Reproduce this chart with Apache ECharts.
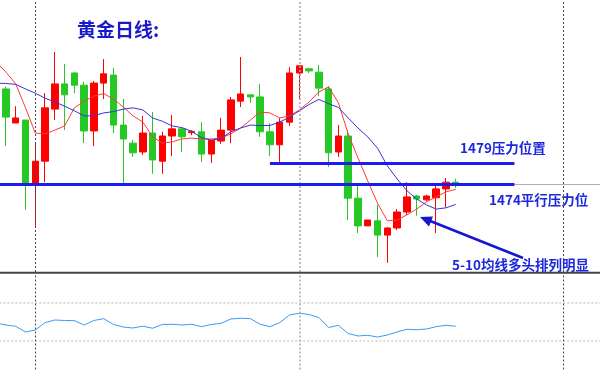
<!DOCTYPE html>
<html><head><meta charset="utf-8">
<script src="https://cdn.jsdelivr.net/npm/echarts@6.0.0/dist/echarts.min.js"></script>
<style>html,body{margin:0;padding:0;background:#fff;overflow:hidden;width:600px;height:370px;position:relative}#c{position:absolute;left:-9px;top:0;width:618px;height:370px}</style>
</head><body><div id="c"></div>
<script>
// Daily gold candles (47 bars)
const opens  = [1496.7,1488.6,1489.3,1474.3,1479.5,1491.9,1497.9,1500.5,1497.6,1486.7,1498.1,1500.0,1488.1,1483.8,1481.7,1486.2,1479.5,1485.5,1487.2,1486.3,1486.5,1481.2,1484.3,1486.9,1493.8,1495.3,1494.8,1486.5,1483.4,1488.8,1500.5,1501.5,1500.7,1496.7,1481.7,1485.5,1470.7,1464.1,1465.3,1461.9,1463.6,1467.4,1471.2,1470.3,1470.8,1472.9,1474.5];
const closes = [1490.0,1489.8,1474.3,1479.5,1492.2,1497.9,1495.3,1497.6,1486.7,1498.1,1500.3,1488.1,1484.8,1481.5,1486.2,1479.8,1485.5,1487.2,1485.3,1486.6,1481.2,1484.5,1486.9,1494.1,1495.5,1494.8,1486.5,1483.4,1488.8,1500.5,1502.2,1501.0,1496.9,1481.5,1485.5,1470.7,1464.1,1465.5,1461.9,1463.6,1467.4,1471.0,1470.5,1471.2,1472.9,1474.5,1474.3];
const lows   = [1483.1,1488.6,1467.9,1464.1,1474.5,1489.3,1486.9,1495.7,1483.8,1483.1,1494.3,1486.2,1474.3,1480.5,1481.0,1476.5,1476.5,1480.7,1481.7,1485.7,1479.3,1479.1,1483.6,1483.8,1492.4,1493.4,1485.3,1480.7,1479.1,1487.9,1494.3,1500.5,1495.0,1478.1,1480.5,1465.5,1462.4,1464.1,1456.7,1455.3,1463.1,1466.7,1466.5,1470.0,1462.4,1468.6,1473.1];
const highs  = [1497.2,1492.6,1489.3,1483.6,1495.7,1505.5,1502.6,1500.7,1498.4,1498.6,1503.8,1501.7,1494.3,1484.5,1490.3,1491.2,1486.5,1490.5,1487.6,1486.9,1488.8,1484.5,1489.8,1494.8,1504.3,1495.3,1497.9,1488.6,1489.8,1501.9,1502.4,1501.7,1502.4,1497.4,1488.1,1486.9,1473.8,1465.5,1469.1,1463.8,1468.1,1474.5,1471.5,1471.5,1474.3,1475.5,1475.3];
// moving averages, one value for the bar before the window plus each bar
const ma5  = [1503.1,1500.7,1497.9,1492.2,1486.2,1486.0,1486.9,1487.9,1492.2,1493.8,1495.0,1495.6,1494.3,1492.4,1490.3,1488.8,1485.3,1483.8,1484.1,1484.8,1485.0,1484.8,1484.8,1485.0,1486.0,1487.4,1489.3,1491.2,1491.0,1489.8,1490.3,1491.7,1493.6,1496.0,1497.2,1493.4,1486.0,1480.3,1474.8,1469.5,1465.3,1465.5,1466.7,1468.1,1469.8,1471.0,1472.2,1472.8];
const ma10 = [1498.1,1498.0,1497.8,1496.7,1495.7,1494.5,1493.6,1492.6,1491.5,1490.3,1490.3,1491.0,1491.3,1491.9,1492.2,1491.7,1489.8,1489.0,1487.9,1487.5,1486.6,1485.1,1484.5,1484.9,1486.5,1487.4,1488.1,1488.0,1488.0,1488.8,1490.0,1491.5,1493.0,1494.2,1493.2,1492.3,1489.8,1487.4,1485.3,1482.6,1478.4,1475.3,1472.5,1470.5,1469.1,1468.1,1468.4,1469.2];
// lower oscillator panel
const osc  = [48.9,46.8,45.5,39.5,41.6,49.3,52.1,51.6,51.4,46.8,51.6,53.5,47.4,44.7,43.7,45.6,43.4,47.4,47.6,46.8,47.6,45.1,47.4,48.6,53.2,53.9,53.5,47.6,45.1,49.3,57.4,59.2,57.9,54.7,44.2,46.5,37.9,35.3,36.0,34.2,36.3,39.5,42.3,41.9,42.6,45.1,46.5,45.5];
const levels = [1474, 1479];
const oscLevels = [70, 30];
const separators = [4, 31, 58];
const nCats = 63;

const categories = [];
for (let i = 0; i < nCats; i++) categories.push(String(i));
const candles = [['-','-','-','-']];
for (let i = 0; i < opens.length; i++) candles.push([opens[i], closes[i], lows[i], highs[i]]);

const chart = echarts.init(document.getElementById('c'), null, {renderer: 'canvas'});
const OX = 9; // container is shifted 9px left of the page
const vLine = (idx) => ({
  xAxis: String(idx),
  lineStyle: idx === 31 ? {color: '#a8a8a8', width: 1.5, type: [2, 2]} : {color: '#4a4a4a', width: 1, type: [2, 2]}
});
const option = {
  animation: false,
  backgroundColor: '#ffffff',
  grid: [
    {left: 0.3, top: 0, width: 616, height: 272},
    {left: 0.3, top: 274.5, width: 616, height: 95}
  ],
  xAxis: [
    {type: 'category', gridIndex: 0, data: categories, boundaryGap: true, show: false},
    {type: 'category', gridIndex: 1, data: categories, boundaryGap: true, show: false}
  ],
  yAxis: [
    {type: 'value', gridIndex: 0, min: 1453.12, max: 1517.88, show: false, splitLine: {show: false}},
    {type: 'value', gridIndex: 1, min: 0, max: 100, show: false, splitLine: {show: false}}
  ],
  series: [
    {
      type: 'candlestick', xAxisIndex: 0, yAxisIndex: 0, data: candles, barWidth: 7,
      itemStyle: {color: '#ff0000', color0: '#25c825', borderColor: '#ff0000', borderColor0: '#25c825', borderWidth: 1},
      markLine: {
        silent: true, symbol: 'none', label: {show: false}, animation: false,
        data: [
          vLine(separators[0]), vLine(separators[1]), vLine(separators[2]),
          [{coord: ['53', levels[0]], lineStyle: {color: '#b0b0b0', width: 1, type: 'solid'}}, {coord: ['62', levels[0]]}],
          [{coord: ['0', levels[0]], lineStyle: {color: '#1c1cf0', width: 3, type: 'solid'}}, {coord: ['53', levels[0]]}],
          [{coord: ['28', levels[1]], lineStyle: {color: '#1c1cf0', width: 3, type: 'solid'}}, {coord: ['53', levels[1]]}]
        ]
      }
    },
    {type: 'line', xAxisIndex: 0, yAxisIndex: 0, data: ma5, showSymbol: false, symbol: 'none', z: 3,
     lineStyle: {color: '#ff3a3a', width: 1}},
    {type: 'line', xAxisIndex: 0, yAxisIndex: 0, data: ma10, showSymbol: false, symbol: 'none', z: 3,
     lineStyle: {color: '#3535d8', width: 1}},
    {type: 'line', xAxisIndex: 1, yAxisIndex: 1, data: osc, showSymbol: false, symbol: 'none',
     lineStyle: {color: '#3d9bf5', width: 1},
     markLine: {
       silent: true, symbol: 'none', label: {show: false},
       data: [
         {yAxis: oscLevels[0], lineStyle: {color: '#cfcfcf', width: 1.5, type: [2, 2]}},
         {yAxis: oscLevels[1], lineStyle: {color: '#cfcfcf', width: 1.5, type: [2, 2]}},
         vLine(separators[0]), vLine(separators[1]), vLine(separators[2])
       ]
     }}
  ],
  graphic: [
    {type: 'line', shape: {x1: OX, y1: 272.8, x2: OX + 600, y2: 272.8}, style: {stroke: '#444', lineWidth: 2}, z: 10},
    {type: 'text', x: OX + 77, y: 30, z: 10, style: {text: '黄金日线:', font: 'bold 19px "Noto Sans CJK SC"', fill: '#1a1ac8', textVerticalAlign: 'middle'}},
    {type: 'text', x: OX + 460, y: 148, z: 10, style: {text: '1479压力位置', font: 'bold 13.5px "Noto Sans CJK SC"', fill: '#1c28dc', textVerticalAlign: 'middle'}},
    {type: 'text', x: OX + 489, y: 200, z: 10, style: {text: '1474平行压力位', font: 'bold 13.5px "Noto Sans CJK SC"', fill: '#1c28dc', textVerticalAlign: 'middle'}},
    {type: 'text', x: OX + 452, y: 265, z: 10, style: {text: '5-10均线多头排列明显', font: 'bold 13.5px "Noto Sans CJK SC"', fill: '#1c28dc', textVerticalAlign: 'middle'}},
    {type: 'line', shape: {x1: OX + 523, y1: 258, x2: OX + 429, y2: 220.5}, style: {stroke: '#1616d0', lineWidth: 2.5}, z: 10},
    {type: 'polygon', shape: {points: [[OX + 420, 217], [OX + 433, 216.5], [OX + 429, 226.5]]}, style: {fill: '#1616d0'}, z: 10}
  ]
};
chart.setOption(option);
</script>
</body></html>
